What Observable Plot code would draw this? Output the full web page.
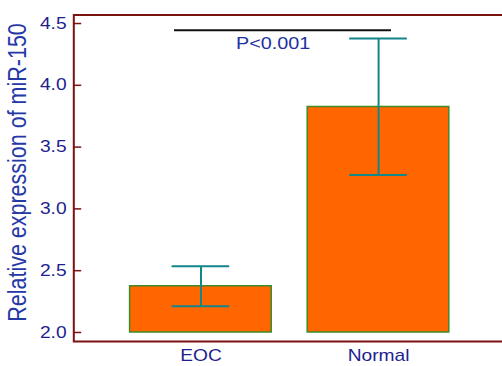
<!DOCTYPE html>
<html>
<head>
<meta charset="utf-8">
<script src="https://cdn.jsdelivr.net/npm/d3@7"></script>
<script src="https://cdn.jsdelivr.net/npm/@observablehq/plot@0.6"></script>
<style>
  html, body { margin: 0; padding: 0; background: #fff; }
  #chart svg * { vector-effect: non-scaling-stroke; }
</style>
</head>
<body>
<div id="chart"></div>
<script>
// ---- data ----
const categories = ["EOC", "Normal"];
const means = [2.375, 3.825];
const errLow = [2.212, 3.275];
const errHigh = [2.535, 4.378];
const yTicks = [2.0, 2.5, 3.0, 3.5, 4.0, 4.5];
const sigY = 4.445;
const sigLabel = "P<0.001";
const sigLabelY = 4.34;
const yTitle = "Relative expression of miR-150";

const rows = categories.map((c, i) => ({cat: c, mean: means[i], lo: errLow[i], hi: errHigh[i]}));

// ---- layout (drawn narrower, then stretched horizontally to 502px) ----
const STRETCH = 1.2;
const W = 502 / STRETCH;
const H = 366;
const mL = 61, mR = 0, mT = 14.5, mB = 25;
const frameW = W - mL - mR;
const maroon = "#7a1212";
const tickColor = "#1e1e8e";

const chart = Plot.plot({
  width: W,
  height: H,
  marginLeft: mL, marginRight: mR, marginTop: mT, marginBottom: mB,
  style: {fontFamily: "'Liberation Sans', Arial, sans-serif", color: tickColor, background: "#fff"},
  x: {domain: categories, range: [107.5, 374.75], paddingInner: 0.2, paddingOuter: 0, axis: null},
  y: {domain: [1.927, 4.569], axis: null},
  marks: [
    Plot.barY(rows, {x: "cat", y1: 2.0, y2: "mean", fill: "#ff6600", stroke: "#3d8a26", strokeWidth: 1.5}),
    Plot.ruleX(rows, {x: "cat", y1: "lo", y2: "hi", stroke: "#13868a", strokeWidth: 2}),
    Plot.tickY(rows, {x: "cat", y: "lo", stroke: "#13868a", strokeWidth: 2, insetLeft: 35, insetRight: 35}),
    Plot.tickY(rows, {x: "cat", y: "hi", stroke: "#13868a", strokeWidth: 2, insetLeft: 35, insetRight: 35}),
    Plot.ruleY([sigY], {stroke: "#111", strokeWidth: 2, insetLeft: 84, insetRight: 92.5}),
    Plot.text([sigLabel], {y: sigLabelY, frameAnchor: "middle", dx: -12.6, fill: "#1b30a3", fontSize: 16.5}),
    Plot.frame({stroke: maroon, strokeWidth: 2, insetRight: -12}),
    Plot.ruleY(yTicks, {stroke: maroon, strokeWidth: 1.5, insetRight: frameW - 8 / STRETCH}),
    Plot.axisY({ticks: yTicks, tickFormat: d3.format(".1f"), tickSize: 0, tickPadding: 6, fontSize: 16, label: null, fill: tickColor}),
    Plot.axisX({tickSize: 0, tickPadding: 8, fontSize: 16, label: null, fill: tickColor}),
    Plot.text([yTitle], {frameAnchor: "left", textAnchor: "middle", rotate: -90, dx: -46.4, dy: -5.75, fill: "#2538a6", fontSize: 21.5})
  ]
});

chart.setAttribute("width", 502);
chart.setAttribute("height", H);
chart.setAttribute("preserveAspectRatio", "none");
chart.style.width = "502px";
chart.style.height = H + "px";
chart.style.maxWidth = "none";
document.getElementById("chart").appendChild(chart);
</script>
</body>
</html>
